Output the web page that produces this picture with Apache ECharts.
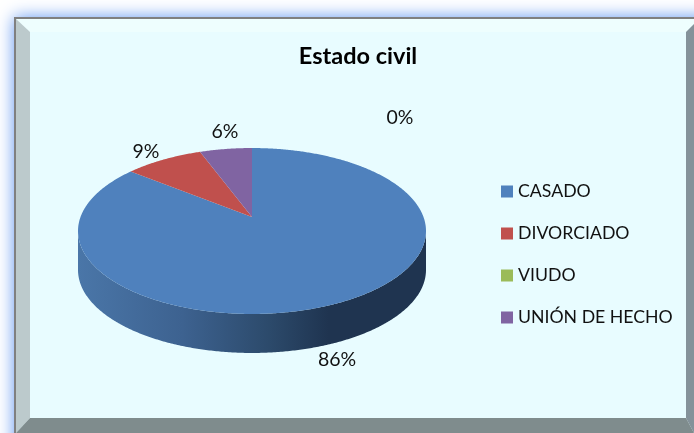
<!DOCTYPE html>
<html>
<head>
<meta charset="utf-8">
<style>
html, body { margin: 0; padding: 0; background: #fff; }
#chart { width: 694px; height: 433px; }
</style>
</head>
<body>
<div id="chart"></div>
<script src="https://cdn.jsdelivr.net/npm/echarts@6/dist/echarts.min.js"></script>
<script>
var categories = ['CASADO', 'DIVORCIADO', 'VIUDO', 'UNIÓN DE HECHO'];
var counts = [60, 6, 0, 4];
var colors = ['#4f81bd', '#c0504d', '#9bbb59', '#8064a2'];

var fontName = 'Lato, Carlito, Calibri, sans-serif';
var total = counts.reduce(function (a, b) { return a + b; }, 0);

// where the percent text sits, same order as categories
var labelPos = [[337, 360], [146, 152], [400, 118], [225, 132]];

// tilted disc: a circle seen in perspective, so the centre is above the middle of the ellipse
var apexX = 252, apexY = 217, radiusX = 171.5, radiusY = 80.6, persp = 0.1687, depth = 39;
var midY = 231;

function project(deg) {
	var a = deg * Math.PI / 180;
	var w = 1 + persp * Math.cos(a);
	return [apexX + radiusX * Math.sin(a) / w, apexY - radiusY * Math.cos(a) / w];
}

function startAngle(index) {
	var sum = 0;
	for (var i = 0; i < index; i++) sum += counts[i];
	return sum / total * 360;
}

function renderSlice(index) {
	return function (params, api) {
		var from = startAngle(index);
		var to = from + api.value(0) / total * 360;
		var top = [[apexX, apexY]];
		var front = [];
		for (var d = from; d <= to; d += 0.5) {
			var p = project(d);
			top.push(p);
			if (p[1] >= midY) front.push(p);
		}
		top.push(project(to));
		var children = [];
		if (front.length > 1) {
			var side = front.slice();
			for (var i = front.length - 1; i >= 0; i--) side.push([front[i][0], front[i][1] + depth]);
			children.push({
				type: 'polygon',
				shape: { points: side },
				style: {
					fill: new echarts.graphic.LinearGradient(0, 0, 1, 0, [
						{ offset: 0, color: '#4a76a8' },
						{ offset: 0.3, color: '#3d6290' },
						{ offset: 0.55, color: '#2c4a6b' },
						{ offset: 0.72, color: '#1f3450' },
						{ offset: 1, color: '#1f3450' }
					])
				}
			});
		}
		children.push({
			type: 'polygon',
			shape: { points: top },
			style: { fill: colors[index] }
		});
		children.push({
			type: 'text',
			z2: 10,
			style: {
				x: labelPos[index][0],
				y: labelPos[index][1],
				text: Math.round(api.value(0) / total * 100) + '%',
				fill: '#111',
				font: '19.5px ' + fontName,
				align: 'center',
				verticalAlign: 'middle'
			}
		});
		return { type: 'group', children: children };
	};
}

// frame around the plot, drawn as flat bevel pieces
var frame = [
	{ type: 'rect', shape: { x: 14, y: 17, width: 700, height: 440 }, style: { fill: '#808080', shadowBlur: 16, shadowColor: '#5f95f0' } },
	{ type: 'rect', shape: { x: 16, y: 19, width: 678, height: 414 }, style: { fill: '#e8fcff' } },
	{ type: 'polygon', shape: { points: [[16, 19], [694, 19], [694, 24], [686, 32], [30, 32]] }, style: { fill: '#eefefe' } },
	{ type: 'polygon', shape: { points: [[16, 19], [30, 32], [30, 418], [16, 433]] }, style: { fill: '#bccacc' } },
	{ type: 'polygon', shape: { points: [[694, 24], [686, 32], [686, 418], [694, 433]] }, style: { fill: '#84929a' } },
	{ type: 'polygon', shape: { points: [[16, 433], [30, 418], [686, 418], [694, 433]] }, style: { fill: '#7f8c8d' } }
];

var myChart = echarts.init(document.getElementById('chart'));
var option = {
	animation: false,
	title: {
		text: 'Estado civil',
		left: 358,
		top: 44,
		padding: 0,
		textAlign: 'center',
		textStyle: { fontFamily: fontName, fontSize: 23.5, fontWeight: 'bold', color: '#000' }
	},
	legend: {
		orient: 'vertical',
		left: 501,
		top: 181,
		padding: 0,
		data: categories,
		icon: 'rect',
		itemWidth: 12,
		itemHeight: 12,
		itemGap: 21,
		selectedMode: false,
		textStyle: { fontFamily: fontName, fontSize: 17.7, color: '#111', lineHeight: 21 }
	},
	graphic: { elements: frame.map(function (e) { e.silent = true; e.z = -10; return e; }) },
	series: categories.map(function (name, i) {
		return {
			name: name,
			type: 'custom',
			coordinateSystem: 'none',
			silent: true,
			itemStyle: { color: colors[i] },
			encode: { value: 0 },
			renderItem: renderSlice(i),
			data: [[counts[i]]]
		};
	})
};
option && myChart.setOption(option);
</script>
</body>
</html>
